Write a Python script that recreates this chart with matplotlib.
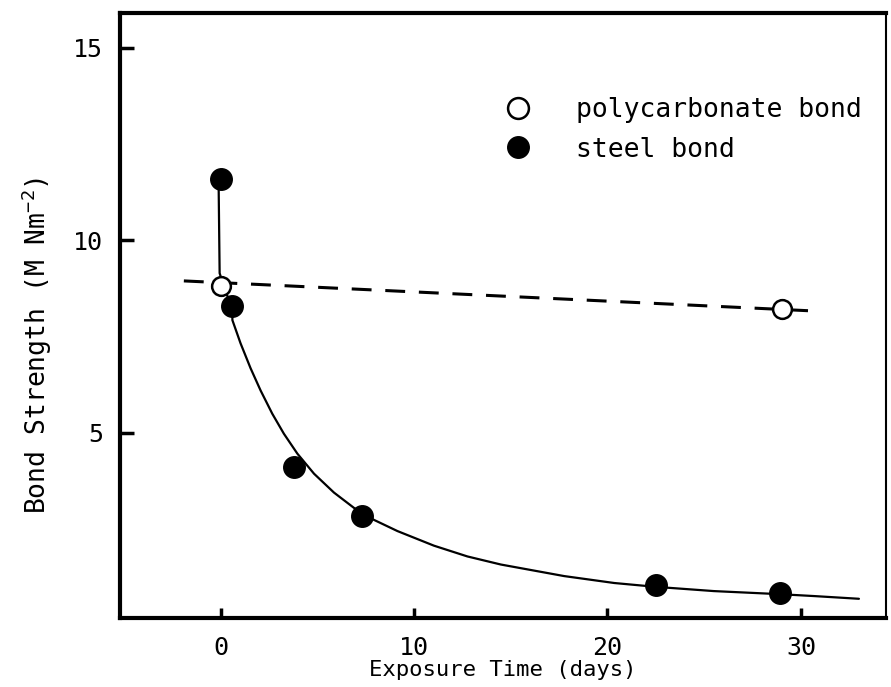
import matplotlib
matplotlib.use("Agg")
import matplotlib.pyplot as plt
from matplotlib.lines import Line2D

# Data
steel_days = [0.0, 0.6, 3.8, 7.3, 22.5, 28.9]
steel_strength = [11.6, 8.29, 4.10, 2.84, 1.04, 0.84]

poly_days = [0.0, 29.0]
poly_strength = [8.81, 8.21]

# hand-drawn trend line for polycarbonate (dashed)
poly_trend_days = [-1.9, 30.6]
poly_trend_strength = [8.94, 8.16]

# hand-drawn fitted curve for steel (solid)
steel_curve_days = [-0.1, -0.1, -0.05, 0.3, 0.6, 0.61, 1.03, 1.55, 2.07, 2.67, 3.27,
                    3.97, 4.83, 5.86, 6.90, 7.93, 9.14, 11.03, 12.76, 14.49,
                    17.76, 20.35, 22.5, 25.5, 28.9, 30.7, 33.0]
steel_curve_strength = [11.6, 11.35, 9.14, 8.6, 8.29, 7.92, 7.32, 6.67, 6.09, 5.49, 4.97,
                        4.45, 3.93, 3.44, 3.04, 2.73, 2.44, 2.06, 1.78, 1.57,
                        1.27, 1.09, 0.99, 0.88, 0.80, 0.75, 0.68]

x_ticks = [0, 10, 20, 30]
y_ticks = [5, 10, 15]

FONT = "DejaVu Sans Mono"

fig = plt.figure(figsize=(8.91, 6.87), dpi=100)
ax = fig.add_axes([0.1347, 0.1004, 0.8597, 0.8806])

ax.plot(steel_curve_days, steel_curve_strength, color="black", lw=1.6,
        solid_capstyle="round", solid_joinstyle="round", zorder=2)
ax.plot(poly_trend_days, poly_trend_strength, color="black", lw=2.2,
        dashes=(6.5, 4.5), zorder=2)
ax.plot(steel_days, steel_strength, "o", color="black", ms=15.5, zorder=3)
ax.plot(poly_days, poly_strength, "o", mfc="white", mec="black", mew=1.8,
        ms=13.5, zorder=4)

ax.set_xlim(-5.2, 34.4)
ax.set_ylim(0.18, 15.9)
ax.set_xticks(x_ticks)
ax.set_yticks(y_ticks)
ax.set_xticklabels([str(t) for t in x_ticks], fontsize=18, family=FONT)
ax.set_yticklabels([str(t) for t in y_ticks], fontsize=18, family=FONT)
ax.tick_params(axis="x", direction="in", length=7, width=2.5, pad=13)
ax.tick_params(axis="y", direction="in", length=10, width=2.5, pad=12)

for side in ["left", "bottom", "top"]:
    ax.spines[side].set_linewidth(3)
ax.spines["right"].set_linewidth(1.5)

ax.set_xlabel("Exposure Time (days)", fontsize=16, family=FONT, labelpad=0)
ax.set_ylabel(r"Bond Strength (M Nm$^{\mathregular{-2}}$)", fontsize=19,
              family=FONT)
ax.yaxis.set_label_coords(-0.086, 0.45)

handles = [
    Line2D([], [], ls="none", marker="o", mfc="white", mec="black", mew=1.8, ms=15),
    Line2D([], [], ls="none", marker="o", color="black", ms=15.5),
]
leg = ax.legend(handles, ["polycarbonate bond", "steel bond"], loc="upper left",
                bbox_to_anchor=(0.488, 0.878), frameon=False, handletextpad=1.7,
                labelspacing=0.5, prop={"family": FONT, "size": 19},
                handlelength=1.0, borderaxespad=0)

fig.savefig("out.png", dpi=100)
